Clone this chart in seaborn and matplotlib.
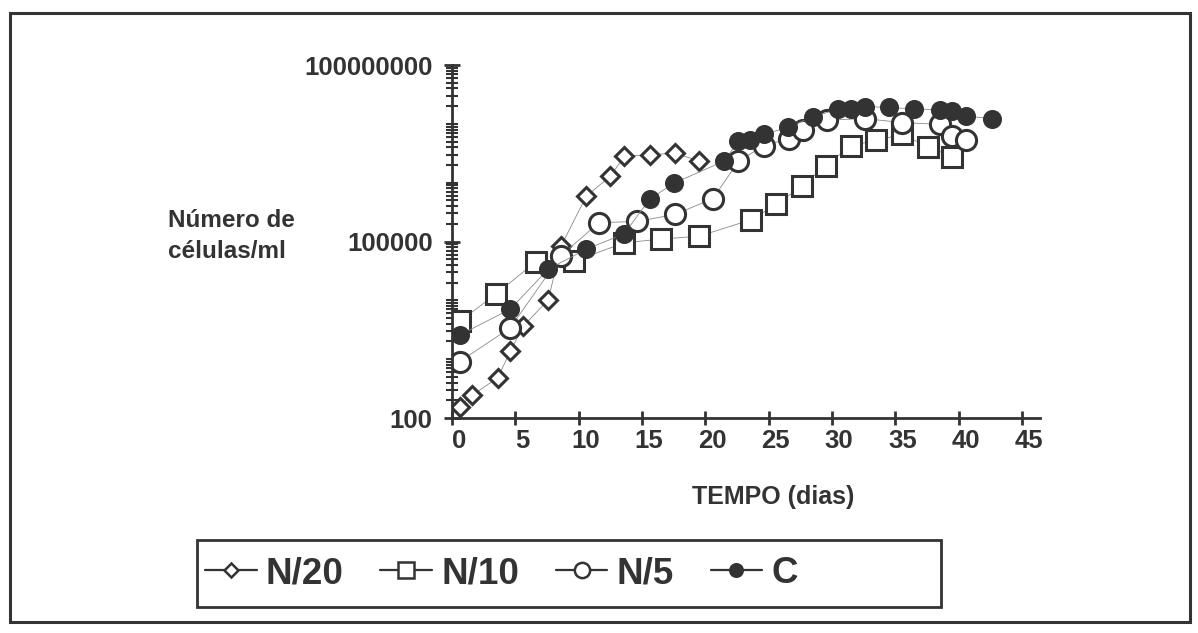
import numpy as np
import pandas as pd
import matplotlib
matplotlib.use("Agg")
import matplotlib.pyplot as plt
import matplotlib.transforms as mtransforms
import seaborn as sns
from matplotlib.ticker import FixedLocator, LogLocator, FuncFormatter, NullFormatter
from matplotlib.patches import Rectangle

# ---------------- data ----------------
series_names = ["N/20", "N/10", "N/5", "C"]

x_n20 = [0.6, 1.6, 3.6, 4.6, 5.6, 7.6, 8.6, 10.6, 12.5, 13.6, 15.6, 17.6, 19.5]
y_n20 = [155, 245, 480, 1350, 3600, 10200, 83000, 590000, 1290000, 2800000,
         3000000, 3150000, 2350000]

x_n10 = [0.6, 3.5, 6.6, 9.6, 13.6, 16.5, 19.5, 23.6, 25.6, 27.6, 29.5, 31.5,
         33.5, 35.5, 37.6, 39.5]
y_n10 = [4400, 12900, 45000, 46000, 95000, 110000, 123000, 234000, 427000,
         870000, 1950000, 4270000, 5250000, 6600000, 4070000, 2750000]

x_n5 = [0.6, 4.6, 8.6, 11.6, 14.6, 17.6, 20.6, 22.6, 24.6, 26.6, 27.7, 29.6,
        32.6, 35.5, 38.5, 39.5, 40.6]
y_n5 = [910, 3400, 57500, 209000, 219000, 288000, 537000, 2290000, 4270000,
        5620000, 7940000, 11500000, 12300000, 10500000, 9800000, 6170000, 5370000]

x_c = [0.6, 4.6, 7.6, 10.6, 13.6, 15.6, 17.5, 21.5, 22.6, 23.5, 24.6, 26.5,
       28.5, 30.5, 31.5, 32.6, 34.5, 36.5, 38.5, 39.5, 40.6, 42.6]
y_c = [2570, 7080, 33900, 74100, 135000, 525000, 977000, 2340000, 5130000,
       5370000, 6610000, 8710000, 13200000, 17800000, 18200000, 19500000,
       19100000, 17800000, 17400000, 16600000, 13500000, 12300000]

x_ticks = [0, 5, 10, 15, 20, 25, 30, 35, 40, 45]
y_major = [100, 100000, 100000000]

# ---------------- style ----------------
sns.set_theme(style="white")
plt.rcParams["font.family"] = ["Liberation Sans", "DejaVu Sans"]
plt.rcParams["font.weight"] = "bold"
INK = "#333333"

W, H = 1198, 633
fig = plt.figure(figsize=(W / 100, H / 100), dpi=100)
fig.patch.set_facecolor("white")

ax_left, ax_right = 452, 1040
ax_top, ax_bot = 65, 418
ax = fig.add_axes([ax_left / W, (H - ax_bot) / H,
                   (ax_right - ax_left) / W, (ax_bot - ax_top) / H])
ax.set_facecolor("white")

styles = {
    "N/20": dict(marker="D", markersize=9.5, markerfacecolor="white"),
    "N/10": dict(marker="s", markersize=14, markerfacecolor="white"),
    "N/5": dict(marker="o", markersize=14.5, markerfacecolor="white"),
    "C": dict(marker="o", markersize=11.5, markerfacecolor=INK),
}
data = {
    "N/20": (x_n20, y_n20),
    "N/10": (x_n10, y_n10),
    "N/5": (x_n5, y_n5),
    "C": (x_c, y_c),
}

handles = []
for name in series_names:
    xs, ys = data[name]
    df = pd.DataFrame({"x": xs, "y": ys})
    n_before = len(ax.lines)
    sns.lineplot(data=df, x="x", y="y", ax=ax, sort=False, estimator=None,
                 color="#8a8a8a", linewidth=0.6, legend=False)
    line = ax.lines[n_before]
    st = styles[name]
    line.set_marker(st["marker"])
    line.set_markersize(st["markersize"])
    line.set_markerfacecolor(st["markerfacecolor"])
    line.set_markeredgecolor(INK)
    line.set_markeredgewidth(2.2)
    line.set_label(name)
    handles.append(line)

ax.set_yscale("log")
ax.set_ylim(100, 100000000)
ax.set_xlim(0, (ax_right - ax_left) / 12.67)

ax.xaxis.set_major_locator(FixedLocator(x_ticks))
ax.yaxis.set_major_locator(FixedLocator(y_major))
ax.yaxis.set_major_formatter(FuncFormatter(lambda v, p: f"{int(round(v))}"))
ax.yaxis.set_minor_locator(LogLocator(base=10, subs=np.arange(1, 10), numticks=100))
ax.yaxis.set_minor_formatter(NullFormatter())

for s in ["top", "right"]:
    ax.spines[s].set_visible(False)
for s in ["left", "bottom"]:
    ax.spines[s].set_color(INK)
    ax.spines[s].set_linewidth(2.0)

ax.tick_params(axis="x", which="major", direction="inout", length=10, width=2,
               color=INK, labelsize=18.5, labelcolor=INK, pad=3, bottom=True)
ax.tick_params(axis="y", which="major", direction="inout", length=12, width=2,
               color=INK, labelsize=18.5, labelcolor=INK, pad=8, left=True)
ax.tick_params(axis="y", which="minor", direction="inout", length=8, width=1.5,
               color=INK, left=True)
offset = mtransforms.ScaledTranslation(7 / 100, 0, fig.dpi_scale_trans)
for lab in ax.get_xticklabels():
    lab.set_fontweight("bold")
    lab.set_transform(lab.get_transform() + offset)
for lab in ax.get_yticklabels():
    lab.set_fontweight("bold")

ax.set_xlabel("")
ax.set_ylabel("")
ax.grid(False)

# axis titles
fig.text(773 / W, 1 - 497 / H, "TEMPO (dias)", ha="center", va="center",
         fontsize=18, fontweight="bold", color=INK)
fig.text(168 / W, 1 - 236 / H, "Número de\ncélulas/ml", ha="left", va="center",
         fontsize=17.5, fontweight="bold", color=INK, linespacing=1.4)

# legend
leg = fig.legend(handles=handles, labels=series_names, loc="center left",
                 bbox_to_anchor=(205 / W, 1 - 573.5 / H), frameon=False, ncol=4,
                 fontsize=26.5, handlelength=1.4, handletextpad=0.25,
                 columnspacing=1.0, borderpad=0, borderaxespad=0)
leg_sizes = [7, 11, 11, 9]
for h, ms in zip(leg.legend_handles, leg_sizes):
    h.set_markersize(ms)
    h.set_markeredgewidth(1.8)
    h.set_linewidth(1.6)
    h.set_color(INK)
for t in leg.get_texts():
    t.set_color(INK)
    t.set_fontweight("bold")

fig.patches.append(Rectangle((197 / W, 1 - 607 / H), 744 / W, 67 / H,
                             transform=fig.transFigure, fill=False,
                             edgecolor=INK, linewidth=2.0))
# outer frame
fig.patches.append(Rectangle((10 / W, 1 - 622 / H), 1180 / W, 609 / H,
                             transform=fig.transFigure, fill=False,
                             edgecolor=INK, linewidth=2.2))

fig.savefig("out.png", dpi=100, facecolor="white")
